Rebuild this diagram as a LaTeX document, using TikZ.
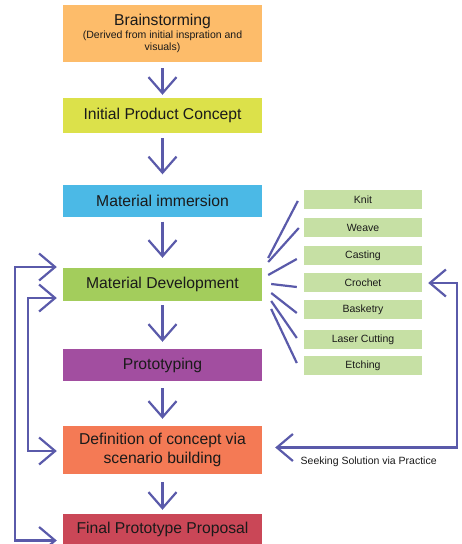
\documentclass[tikz,border=0pt]{standalone}
\usepackage{fontspec}
\setmainfont{Liberation Sans}
\usetikzlibrary{arrows.meta}

\definecolor{cBrain}{HTML}{FDBC6A}
\definecolor{cConcept}{HTML}{DCE14A}
\definecolor{cImmerse}{HTML}{4BB9E6}
\definecolor{cDevelop}{HTML}{A3CD5C}
\definecolor{cProto}{HTML}{A24EA0}
\definecolor{cDefine}{HTML}{F47A55}
\definecolor{cFinal}{HTML}{CA4757}
\definecolor{cTech}{HTML}{C6E0A4}
\definecolor{cLink}{HTML}{5A5AAA}
\definecolor{cText}{HTML}{1A1A1A}

\newcommand{\subnote}{\fontsize{10.5}{12}\selectfont}

\tikzset{
  stage/.style={draw=none, minimum width=199pt, inner sep=0pt, text=cText,
    align=center, font=\fontsize{15.7}{19}\selectfont},
  tech/.style={fill=cTech, minimum width=118pt, minimum height=19pt, inner sep=0pt,
    text=cText, font=\fontsize{10.5}{12}\selectfont},
  flow/.style={draw=cLink, line width=2.2pt,
    -{Straight Barb[length=16pt,width=28pt]}},
  backlink/.style={draw=cLink, line width=2.2pt,
    {Straight Barb[length=16pt,width=27pt]}-{Straight Barb[length=16pt,width=27pt]}},
  spoke/.style={draw=cLink, line width=2.2pt},
}

\begin{document}
\begin{tikzpicture}[x=1pt, y=-1pt]
\useasboundingbox (0,0) rectangle (461,544);

% main process column
\node[stage, fill=cBrain, minimum height=57pt] (bs) at (162.5,33.5)
  {Brainstorming\\[-6pt]{\subnote (Derived from initial inspration and}\\[-7pt]{\subnote visuals)}};
\node[stage, fill=cConcept, minimum height=35pt] (ipc) at (162.5,115.5) {Initial Product Concept};
\node[stage, fill=cImmerse, minimum height=32pt] (mi) at (162.5,200.5) {Material immersion};
\node[stage, fill=cDevelop, minimum height=33pt] (md) at (162.5,284.5) {Material Development};
\node[stage, fill=cProto, minimum height=32pt] (pt) at (162.5,365) {Prototyping};
\node[stage, fill=cDefine, minimum height=48pt] (dc) at (162.5,450) {Definition of concept via\\scenario building};
\node[stage, fill=cFinal, minimum height=30pt] (fp) at (162.5,529) {Final Prototype Proposal};

% techniques
\node[tech] (knit) at (363,199.5) {Knit};
\node[tech] (weave) at (363,227.5) {Weave};
\node[tech] (cast) at (363,255.5) {Casting};
\node[tech] (croc) at (363,282.5) {Crochet};
\node[tech] (bask) at (363,309.5) {Basketry};
\node[tech] (laser) at (363,339.5) {Laser Cutting};
\node[tech] (etch) at (363,365.5) {Etching};

\node[text=cText, font=\fontsize{10.5}{12}\selectfont, anchor=west, inner sep=0pt]
  (seek) at (300.5,461.5) {Seeking Solution via Practice};

% downward flow
\draw[flow] ([shift={(0,6)}]bs.south) -- ([shift={(0,-3)}]ipc.north);
\draw[flow] ([shift={(0,5)}]ipc.south) -- ([shift={(0,-10)}]mi.north);
\draw[flow] ([shift={(0,5)}]mi.south) -- ([shift={(0,-10)}]md.north);
\draw[flow] ([shift={(0,4)}]md.south) -- ([shift={(0,-7)}]pt.north);
\draw[flow] ([shift={(0,7)}]pt.south) -- ([shift={(0,-7)}]dc.north);
\draw[flow] ([shift={(0,8)}]dc.south) -- ([shift={(0,-4)}]fp.north);

% spokes from material development to the techniques
\draw[spoke] ([shift={(6,-26.5)}]md.east) -- ([shift={(-6,1.5)}]knit.west);
\draw[spoke] ([shift={(6,-22.5)}]md.east) -- ([shift={(-5,0.5)}]weave.west);
\draw[spoke] ([shift={(6,-9.5)}]md.east) -- ([shift={(-7,3.5)}]cast.west);
\draw[spoke] ([shift={(9,-0.5)}]md.east) -- ([shift={(-7,4.5)}]croc.west);
\draw[spoke] ([shift={(9,8.5)}]md.east) -- ([shift={(-7,3.5)}]bask.west);
\draw[spoke] ([shift={(9,16.5)}]md.east) -- ([shift={(-7,-1.5)}]laser.west);
\draw[spoke] ([shift={(9,24.5)}]md.east) -- ([shift={(-7,-2.5)}]etch.west);

% feedback loops
\coordinate (outer) at (15,400);
\coordinate (inner) at (28,400);
\coordinate (right) at (457,400);
\draw[backlink] ([shift={(-6,-17.5)}]md.west) -| (outer) |- ([shift={(-6,11.5)}]fp.west);
\draw[backlink] ([shift={(-6,13.5)}]md.west) -| (inner) |- ([shift={(-6,1)}]dc.west);
\draw[backlink] ([shift={(13,-2.5)}]dc.east) -| (right) |- ([shift={(6,0.5)}]croc.east);
\end{tikzpicture}
\end{document}
